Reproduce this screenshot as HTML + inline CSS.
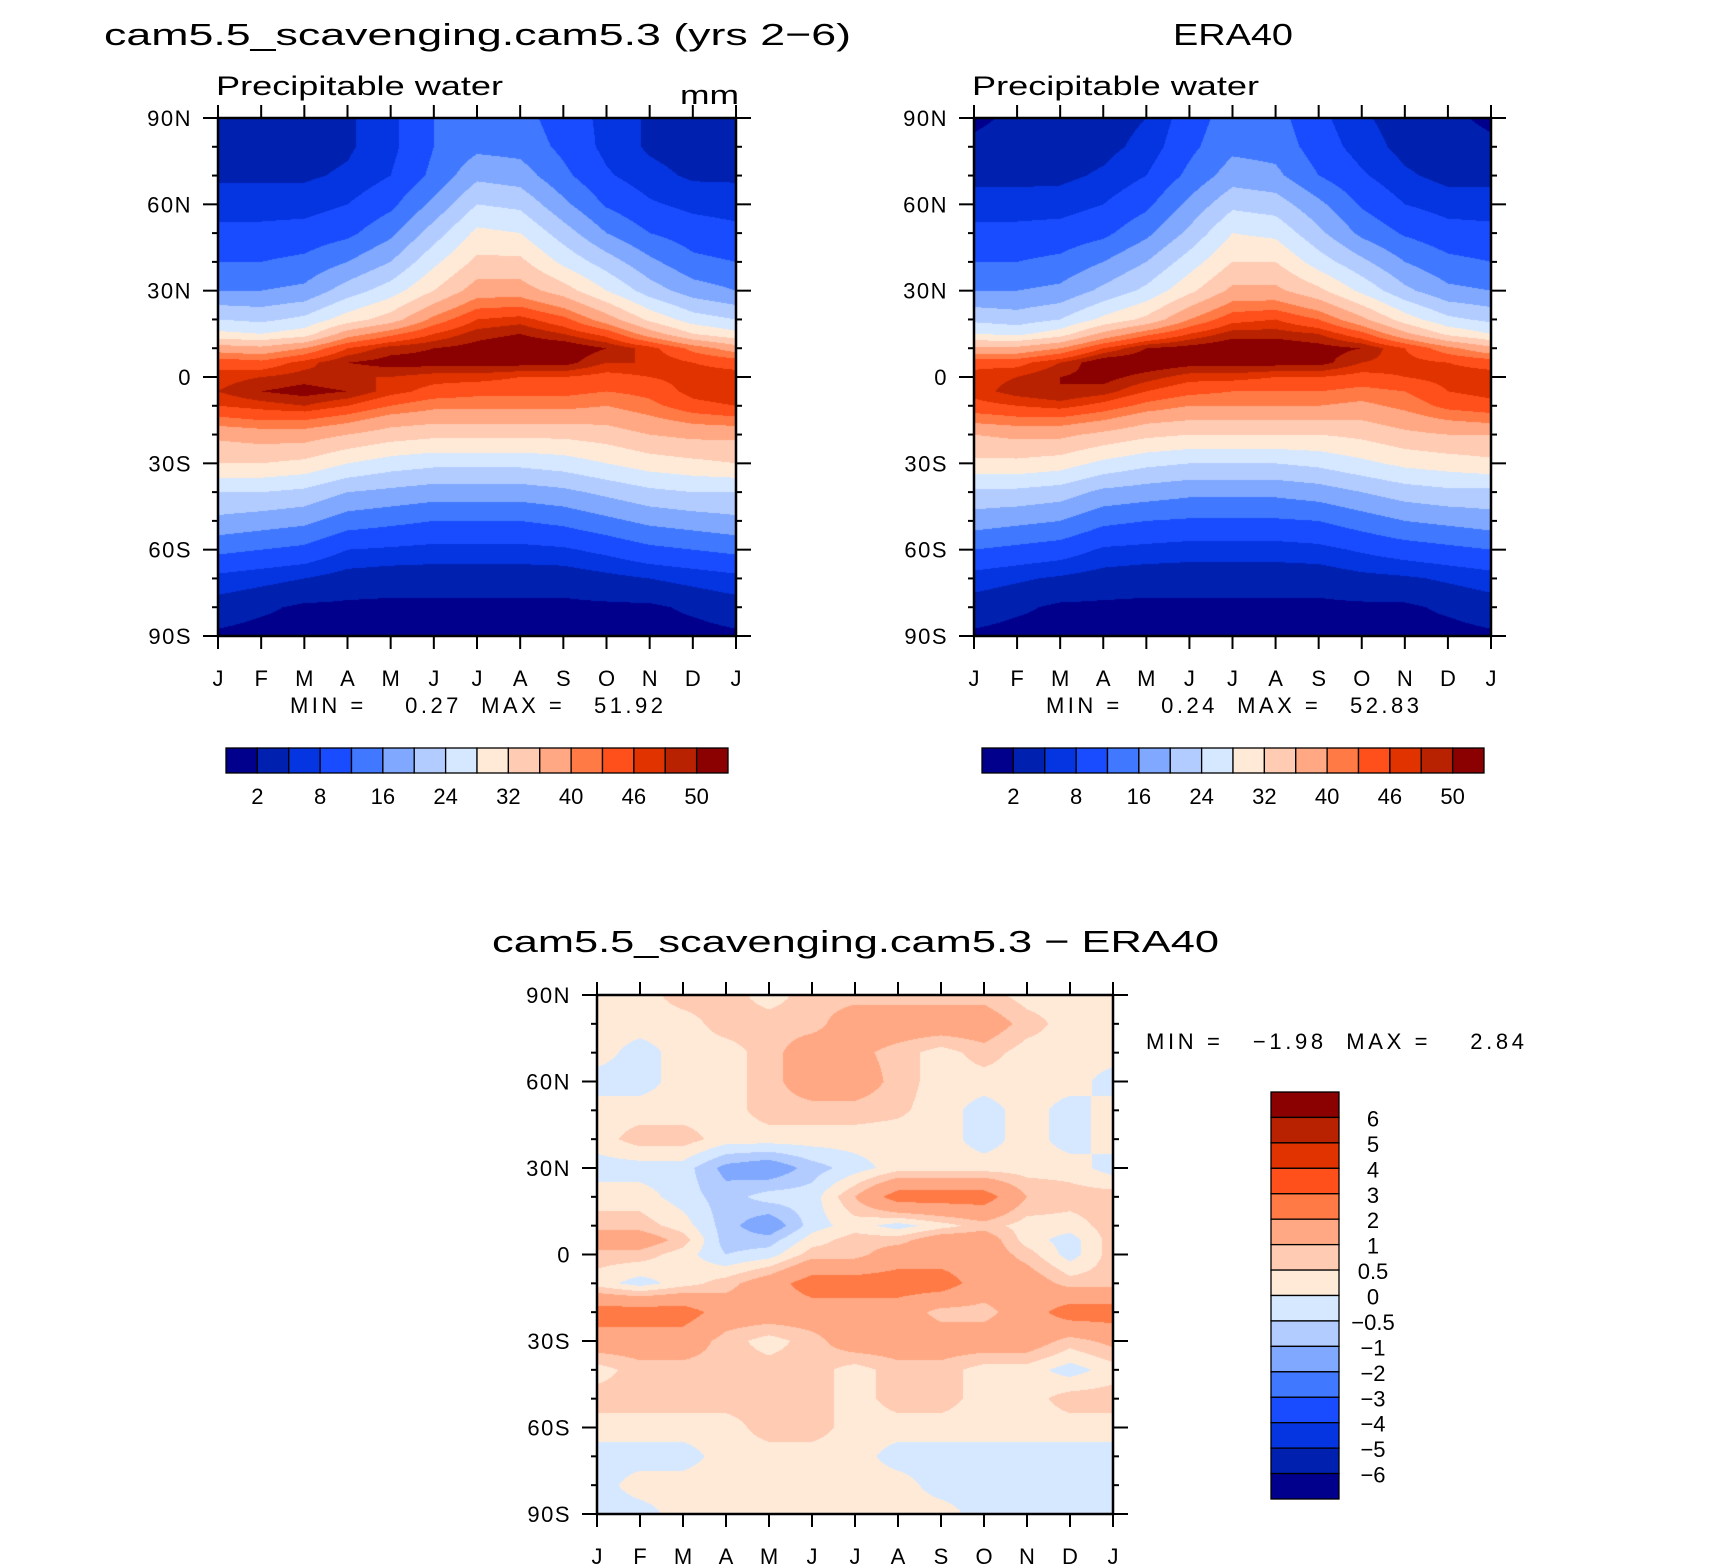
<!DOCTYPE html>
<html><head><meta charset="utf-8"><style>
html,body{margin:0;padding:0;background:#fff;}
#wrap{position:relative;width:1710px;height:1568px;overflow:hidden;}
canvas{position:absolute;}
svg{position:absolute;left:0;top:0;}
text{font-family:"Liberation Sans",sans-serif;fill:#000;}
</style></head><body>
<div id="wrap">
<canvas id="c1" style="left:218px;top:118px" width="518" height="518"></canvas>
<canvas id="c2" style="left:974px;top:118px" width="517" height="518"></canvas>
<canvas id="c3" style="left:597px;top:995px" width="516" height="519"></canvas>
<svg id="svg" width="1710" height="1568">
<text x="104" y="45" font-size="31" textLength="747" lengthAdjust="spacingAndGlyphs">cam5.5_scavenging.cam5.3 (yrs 2−6)</text>
<text x="1173" y="45" font-size="31" textLength="120" lengthAdjust="spacingAndGlyphs">ERA40</text>
<text x="216" y="95" font-size="27" textLength="287" lengthAdjust="spacingAndGlyphs">Precipitable water</text>
<text x="680" y="104" font-size="27" textLength="59" lengthAdjust="spacingAndGlyphs">mm</text>
<text x="972" y="95" font-size="27" textLength="287" lengthAdjust="spacingAndGlyphs">Precipitable water</text>
<text x="290" y="713" font-size="22" textLength="373" lengthAdjust="spacing" xml:space="preserve">MIN =    0.27  MAX =   51.92</text>
<text x="1046" y="713" font-size="22" textLength="373" lengthAdjust="spacing" xml:space="preserve">MIN =    0.24  MAX =   52.83</text>
<text x="492" y="952" font-size="31" textLength="727" lengthAdjust="spacingAndGlyphs">cam5.5_scavenging.cam5.3 − ERA40</text>
<text x="1146" y="1049" font-size="22" textLength="378" lengthAdjust="spacing" xml:space="preserve">MIN =   −1.98  MAX =    2.84</text>
</svg>
</div>
<script>
const monthLabels = ["J","F","M","A","M","J","J","A","S","O","N","D","J"];
const latTickLabels = ["90N","60N","30N","0","30S","60S","90S"];
const pwLevels = [2,5,8,12,16,20,24,28,32,36,40,43,46,48,50];
const pwLevelLabels = ["2","8","16","24","32","40","46","50"];
const diffLevels = [-6,-5,-4,-3,-2,-1,-0.5,0,0.5,1,2,3,4,5,6];
const diffLevelLabels = ["6","5","4","3","2","1","0.5","0","−0.5","−1","−2","−3","−4","−5","−6"];
const palette = ["#00008c","#0020b0","#0535e0","#1a4cff","#4078ff","#80a8ff","#b3ccff","#d6e8ff","#ffead8","#ffcbb3","#ffa883","#ff7a45","#ff4f1a","#e03300","#b82200","#8b0000"];

const pwLats = [90,80,70,60,50,40,30,20,15,10,5,0,-5,-10,-15,-20,-30,-40,-50,-60,-70,-80,-90];
const modelPW = [
[3.5,3.5,3.5,4.5,7,12,14,13.5,10,7,4.5,3.5,3.5],
[3.5,3.5,3.5,4.5,7,12,15,14.5,11,7,4.5,3.5,3.5],
[4.5,4.5,4.5,5.5,8,13,19,18,13,8.5,6,4.5,4.5],
[6.5,6.5,6.5,8,11,17,24,23,17,11.5,8.5,7,6.5],
[9,9,9.5,11,15,22,29,28,22,16,12,10,9],
[12,12,13,16,20,27,33,33,27,22,17,13,12],
[16,16,17,22,26,32,38,38,34,28,22,18,16],
[24,23,25,30,34,41,46,47,44,38,31,26,24],
[29,28,30,38,42,46,49,50,48,45,38,32,29],
[38,37,40,46,49,50,51,52,52,50,47,42,38],
[45,44,47,50,51,51,51,51,51,48,48,46,45],
[47,48,49,48,48,47,47,46,46,45,46,47,47],
[48,50,51,50,47,45,44,44,44,43,44,47,48],
[46,47,48,46,43,41,41,41,41,40,42,45,46],
[42,43,43,41,38,37,37,37,37,37,39,41,42],
[37,38,38,36,34,33,33,33,33,34,36,37,37],
[32,32,31,28,26,25,25,25,26,28,30,31,32],
[24,24,23,20,19,18,18,18,19,21,23,24,24],
[19,18,17,14,13,12,12,12,13,15,17,18,19],
[13,12,11,8,7.5,7,7,7,7.5,9,11,12,13],
[7,6,5,3.5,3,3,3,3,3,4,5,6,7],
[3.5,2.5,1.5,1.5,1.5,1.5,1.5,1.5,1.5,1.5,1.5,2.5,3.5],
[1.5,1,1,1,1,1,1,1,1,1,1,1,1.5]];
const eraPW = [
[1.5,2.5,3,3.5,5,10,14,13.5,9,5.5,3.5,2.5,1.5],
[2.5,3,3.2,4,6,11,15,14.5,10,6.5,4,3,2.5],
[4,4,4.2,5.5,8,13,18,17,12,8.5,5.5,4,4],
[6.5,6.5,6.5,8,11,17,23,22,17,11.5,8,6.5,6.5],
[9,9,9.5,11,15,21,28,27,21,15,11.5,9.5,9],
[12,12,13,16,20,26,32,32,26,21,16,13,12],
[16,16,17,21,25,31,37,37,33,27,21,17,16],
[23,22,24,29,33,40,45,46,43,37,30,25,23],
[28,27,30,37,42,46,49,49,48,44,37,31,28],
[37,37,40,46,50,51,52,52,51,50,46,41,37],
[45,45,48,52,52,51,51,51,51,48,47,46,45],
[47,48,50,51,49,47,47,46,46,45,46,47,47],
[47,49,50,49,46,44,43,43,43,42,43,46,47],
[45,46,47,45,42,40,40,40,40,39,41,44,45],
[41,42,42,40,37,36,36,36,36,36,38,40,41],
[36,37,37,35,33,32,32,32,32,33,35,36,36],
[31,31,30,27,25,24,24,24,25,27,29,30,31],
[23,23,22,19,18,17,17,17,18,20,22,23,23],
[18,17,16,13,12,11.5,11.5,11.5,12,14,16,17,18],
[12,11,10,7.5,7,6.5,6.5,6.5,7,8.5,10,11,12],
[6.5,5.5,4.5,3.5,3,3,3,3,3,4,4.5,5.5,6.5],
[3.5,2.5,1.5,1.5,1.5,1.5,1.5,1.5,1.5,1.5,1.5,2.5,3.5],
[1.5,1,1,1,1,1,1,1,1,1,1,1,1.5]];

const diffLats = [90,80,70,60,50,40,30,20,10,5,0,-10,-20,-30,-40,-50,-60,-70,-80,-90];
const diffPW = [
[0.25,0.25,0.75,0.75,0.25,0.75,0.75,0.75,0.75,0.75,0.25,0.25,0.25],
[0.25,0.25,0.25,0.75,0.75,0.75,1.5,1.5,1.5,1.5,0.75,0.25,0.25],
[0.25,-0.25,0.25,0.25,0.75,1.5,1.2,0.75,0.25,0.75,0.25,0.25,0.25],
[-0.25,-0.25,0.25,0.25,0.75,1.5,1.5,0.75,0.25,0.25,0.25,0.25,-0.25],
[0.25,0.25,0.25,0.25,0.75,0.75,0.75,0.6,0.25,-0.25,0.25,-0.25,0.25],
[0.25,0.75,0.75,0.25,0.25,0.25,0.25,0.25,0.25,-0.25,0.25,-0.25,0.25],
[-0.25,-0.25,-0.25,-1.2,-1.5,-0.75,-0.25,0.25,0.25,0.25,0.25,0.25,-0.25],
[0.25,0.25,-0.25,-0.75,-0.25,-0.25,1.0,2.5,2.5,2.5,1.0,0.75,0.75],
[0.75,0.75,0.25,-0.75,-1.5,-0.25,0.25,-0.25,0.25,0.75,0.25,0.25,0.75],
[1.5,1.5,0.75,-0.75,-0.75,0.25,0.75,0.75,1.5,1.5,0.25,-0.25,0.75],
[0.75,0.75,0.25,-0.5,-0.25,0.75,0.75,1.5,1.5,1.5,0.75,-0.25,0.75],
[0.25,-0.25,0.25,0.75,1.5,2.5,2.5,2.5,2.5,1.5,1.5,0.75,0.75],
[2.5,2.5,2.5,1.5,1.5,1.5,1.5,1.5,0.75,0.75,1.5,2.5,2.5],
[1.5,1.5,1.5,0.75,0.25,0.75,1.5,1.5,1.5,1.5,1.5,0.75,1.2],
[0.25,0.75,0.75,0.75,0.75,0.75,0.25,0.75,0.75,0.25,0.25,-0.25,0.25],
[0.75,0.75,0.75,0.75,0.75,0.75,0.25,0.75,0.75,0.25,0.25,0.75,0.75],
[0.25,0.25,0.25,0.25,0.75,0.75,0.25,0.25,0.25,0.25,0.25,0.25,0.25],
[-0.25,-0.25,-0.25,0.25,0.25,0.25,0.25,-0.25,-0.25,-0.25,-0.25,-0.25,-0.25],
[-0.25,0.25,0.25,0.25,0.25,0.25,0.25,0.25,-0.25,-0.25,-0.25,-0.25,-0.25],
[-0.25,-0.25,0.25,0.25,0.25,0.25,0.25,0.25,0.25,-0.25,-0.25,-0.25,-0.25]];

function sample(lats, vals, m, lat){
  const nc = vals[0].length;
  let c0 = Math.min(Math.floor(m), nc-2); const fx = m - c0;
  let r = 0; while(r < lats.length-2 && lat < lats[r+1]) r++;
  const fy = (lats[r]-lat)/(lats[r]-lats[r+1]);
  const a = vals[r][c0]*(1-fx)+vals[r][c0+1]*fx;
  const b = vals[r+1][c0]*(1-fx)+vals[r+1][c0+1]*fx;
  return a*(1-fy)+b*fy;
}
function band(levels, v){ let k=0; while(k<levels.length && v>=levels[k]) k++; return k; }
function hex(h){return [parseInt(h.substr(1,2),16),parseInt(h.substr(3,2),16),parseInt(h.substr(5,2),16)];}
const rgb = palette.map(hex);
function drawField(id, lats, vals, levels){
  const cv=document.getElementById(id), ctx=cv.getContext('2d');
  const w=cv.width,h=cv.height, img=ctx.createImageData(w,h);
  for(let y=0;y<h;y++){ const lat=90-(y+0.5)/h*180;
    for(let x=0;x<w;x++){ const m=(x+0.5)/w*(vals[0].length-1);
      const c=rgb[band(levels,sample(lats,vals,m,lat))]; const i=(y*w+x)*4;
      img.data[i]=c[0];img.data[i+1]=c[1];img.data[i+2]=c[2];img.data[i+3]=255; } }
  ctx.putImageData(img,0,0);
}
drawField('c1', pwLats, modelPW, pwLevels);
drawField('c2', pwLats, eraPW, pwLevels);
drawField('c3', diffLats, diffPW, diffLevels);

const NS="http://www.w3.org/2000/svg", svg=document.getElementById('svg');
function el(tag, attrs){ const e=document.createElementNS(NS,tag); for(const k in attrs) e.setAttribute(k,attrs[k]); svg.appendChild(e); return e; }
function axes(x0,y0,w,h,prefix){
  const xs=m=>x0+m*w/12, ys=lat=>y0+(90-lat)/180*h;
  for(let lat=90;lat>=-90;lat-=10){
    const major = lat%30===0, L = major?15:6;
    el('line',{x1:x0-L,x2:x0,y1:ys(lat),y2:ys(lat),stroke:'#000','stroke-width':2});
    el('line',{x1:x0+w,x2:x0+w+L,y1:ys(lat),y2:ys(lat),stroke:'#000','stroke-width':2});
  }
  latTickLabels.forEach((t,i)=>{ const e=el('text',{x:x0-26,y:ys(90-30*i)+8,'font-size':22,'text-anchor':'end','letter-spacing':'1.5'}); e.textContent=t;
    
     });
  monthLabels.forEach((t,i)=>{
    el('line',{x1:xs(i),x2:xs(i),y1:y0-13,y2:y0,stroke:'#000','stroke-width':2});
    el('line',{x1:xs(i),x2:xs(i),y1:y0+h,y2:y0+h+13,stroke:'#000','stroke-width':2});
    const e=el('text',{x:xs(i),y:y0+h+50,'font-size':22,'text-anchor':'middle'}); e.textContent=t;
    
    
  });
  const f=el('rect',{x:x0,y:y0,width:w,height:h,fill:'none',stroke:'#000','stroke-width':2.5});
  
  
}
axes(218,118,518,518,'model');
axes(974,118,517,518,'era40');
axes(597,995,516,519,'difference');

function hbar(x0,y0,w,h,prefix){
  const bw=w/16;
  palette.forEach((c,i)=>{ const r=el('rect',{x:x0+i*bw,y:y0,width:bw,height:h,fill:c,stroke:'#000','stroke-width':1.3});
    
     });
  pwLevelLabels.forEach((t,j)=>{ const e=el('text',{x:x0+(2*j+1)*bw,y:y0+h+31,'font-size':22,'text-anchor':'middle'}); e.textContent=t;
    
     });
}
hbar(226,748,502,25,'model');
hbar(982,748,502,25,'era40');

(function(){
  const x0=1271,y0=1092,w=68,h=407,bh=h/16;
  for(let i=0;i<16;i++){ const r=el('rect',{x:x0,y:y0+i*bh,width:w,height:bh,fill:palette[15-i],stroke:'#000','stroke-width':1.3});
    
     }
  diffLevelLabels.forEach((t,i)=>{ const e=el('text',{x:1373,y:y0+(i+1)*bh+9,'font-size':22,'text-anchor':'middle'}); e.textContent=t;
    
     });
})();
</script>
</body></html>
